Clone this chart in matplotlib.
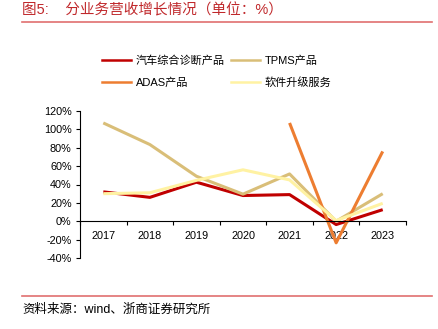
import matplotlib
matplotlib.use("Agg")
import matplotlib.pyplot as plt
from matplotlib.lines import Line2D
import numpy as np

plt.rcParams['font.family'] = ['Liberation Sans', 'Noto Sans CJK SC', 'DejaVu Sans']

years = ['2017', '2018', '2019', '2020', '2021', '2022', '2023']
diag = [32, 26, 42.5, 28, 29, -3.6, 12.6]
tpms = [107, 83.5, 49, 29.5, 51.5, 0, 30]
adas = [np.nan, np.nan, np.nan, np.nan, 107, -23.5, 76]
soft = [30, 31, 44.5, 56, 45, 0.7, 19.5]
names = ['汽车综合诊断产品', 'TPMS产品', 'ADAS产品', '软件升级服务']
colors = ['#C00000', '#D9BE78', '#ED7D31', '#FFF2A3']

fig = plt.figure(figsize=(4.38, 3.29), dpi=100)
ax = fig.add_axes([80/438, 1-258/329, 326/438, 147/329])

x = np.arange(len(years))
for vals, c, n in zip([diag, tpms, adas, soft], colors, names):
    ax.plot(x, vals, color=c, lw=2.2, label=n, solid_capstyle='butt')

ax.set_xlim(-0.5, len(years) - 0.5)
ax.set_ylim(-40, 120)
ax.set_yticks(np.arange(-40, 121, 20))
ax.set_yticklabels([f'{v}%' for v in range(-40, 121, 20)])
ax.set_xticks(x)
ax.set_xticklabels(years)
ax.set_xticks(np.arange(-0.5, len(years), 1), minor=True)
ax.tick_params(axis='x', which='major', length=0, pad=7, labelsize=7.8)
ax.tick_params(axis='x', which='minor', length=3, direction='out', width=0.8)
ax.tick_params(axis='y', length=3, width=0.8, pad=3, labelsize=7.8)
for s in ['top', 'right']:
    ax.spines[s].set_visible(False)
ax.spines['bottom'].set_position(('data', 0))
ax.spines['bottom'].set_linewidth(0.8)
ax.spines['left'].set_linewidth(0.8)

# legend: row1 diag, TPMS; row2 ADAS, software (column-major order)
order = [0, 2, 1, 3]
handles = [Line2D([0], [0], color=colors[i], lw=1.8) for i in order]
labels = [names[i] for i in order]
fig.legend(handles, labels, loc='upper left', bbox_to_anchor=(98/438, 1-51/329),
           ncol=2, frameon=False, fontsize=8, handlelength=2.6, handletextpad=0.4,
           columnspacing=0.6, labelspacing=1.0, borderaxespad=0)

fig.text(22/438, 1-10/329, '图5:    分业务营收增长情况（单位：%）', color='#C0282B', fontsize=10.5,
         va='center', ha='left')
fig.add_artist(Line2D([22/438, 432/438], [1-22/329, 1-22/329], color='#E07070', lw=1.2))
fig.add_artist(Line2D([22/438, 432/438], [1-296/329, 1-296/329], color='#E07070', lw=1.2))
fig.text(22/438, 1-310/329, '资料来源：wind、浙商证券研究所', color='black', fontsize=9,
         va='center', ha='left')

fig.savefig('out.png', dpi=100)
